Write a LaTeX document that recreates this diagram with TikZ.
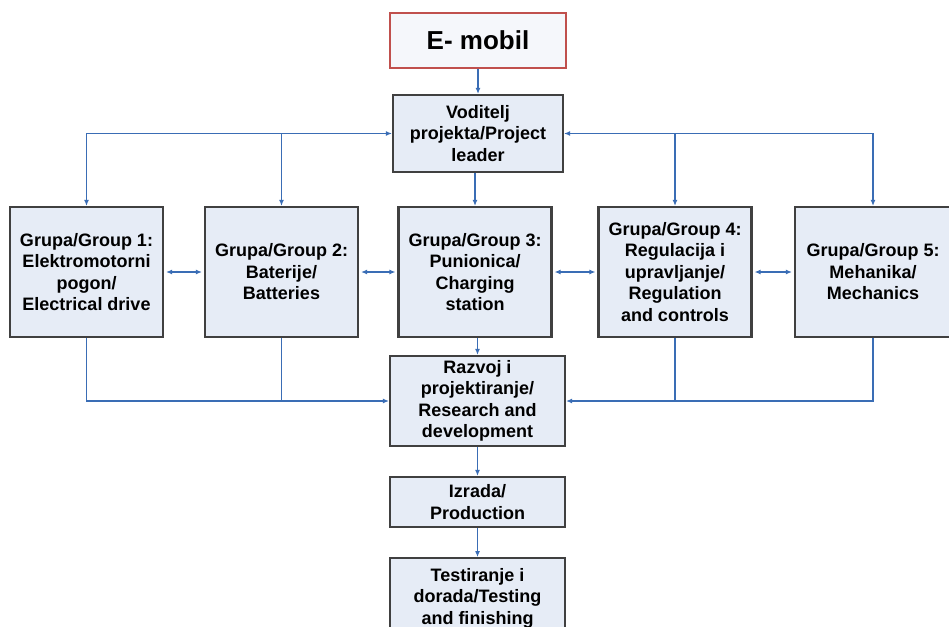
\documentclass[tikz,border=0pt]{standalone}
\usepackage{fontspec}
\setmainfont{Liberation Sans}
\usepackage{tikz}
\usetikzlibrary{arrows.meta}
\definecolor{boxfill}{HTML}{E6ECF6}
\definecolor{boxline}{HTML}{404040}
\definecolor{linkblue}{HTML}{3A6DB5}
\definecolor{topred}{HTML}{C0504D}
\tikzset{
    unit/.style={shape=rectangle, draw=boxline, line width=2.2pt, fill=boxfill, align=center, inner sep=0pt,
        font=\fontsize{18}{21.5}\selectfont\bfseries},
    link/.style={draw=linkblue, line width=1.1pt},
    >={Latex[length=6pt,width=5pt]}}

\begin{document}
\begin{tikzpicture}[x=1pt, y=-1pt]

        \useasboundingbox (0,0) rectangle (949,626);
        \clip (0,0) rectangle (949,626);

                    \node[unit, draw=topred, fill=white!60!boxfill, minimum width=176pt, minimum height=55pt, font=\fontsize{26}{30}\selectfont\bfseries] (emobil) at (478,40.5) {E- mobil};
                    \node[unit, minimum width=170pt, minimum height=77pt] (leader) at (478,133.5) {Voditelj\\projekta/Project\\leader};

                    \node[unit, minimum width=153pt, minimum height=130pt] (g1) at (86.5,272) {Grupa/Group 1:\\Elektromotorni\\pogon/\\Electrical drive};
                    \node[unit, minimum width=153pt, minimum height=130pt] (g2) at (281.5,272) {Grupa/Group 2:\\Baterije/\\Batteries};
                    \node[unit, minimum width=153pt, minimum height=130pt] (g3) at (475,272) {Grupa/Group 3:\\Punionica/\\Charging\\station};
                    \node[unit, minimum width=153pt, minimum height=130pt] (g4) at (675,272) {Grupa/Group 4:\\Regulacija i\\upravljanje/\\Regulation\\and controls};
                    \node[unit, minimum width=156pt, minimum height=130pt] (g5) at (873,272) {Grupa/Group 5:\\Mehanika/\\Mechanics};

                    \node[unit, minimum width=175pt, minimum height=90pt] (razvoj) at (477.5,401) {Razvoj i\\projektiranje/\\Research and\\development};
                    \node[unit, minimum width=175pt, minimum height=50pt] (izrada) at (477.5,502) {Izrada/\\Production};
                    \node[unit, minimum width=175pt, minimum height=80pt, anchor=north] (test) at (477.5,557) {Testiranje i\\dorada/Testing\\and finishing};

                    % top of the tree
                    \draw[link, ->] (emobil) -- (leader);
                    \draw[link, <->] (g1.north) |- (leader.west);
                    \draw[link, <->] (g5.north) |- (leader.east);
                    \draw[link, ->] (g2.north |- leader.west) -- (g2.north);
                    \draw[link, ->] (g4.north |- leader.east) -- (g4.north);
                    \draw[link, ->] (leader.south -| g3.north) -- (g3.north);

                    % between the groups
                    \draw[link, <->, shorten <=2pt, shorten >=2pt] (g1) -- (g2);
                    \draw[link, <->, shorten <=2pt, shorten >=2pt] (g2) -- (g3);
                    \draw[link, <->, shorten <=2pt, shorten >=2pt] (g3) -- (g4);
                    \draw[link, <->, shorten <=2pt, shorten >=2pt] (g4) -- (g5);

                    % down to development
                    \draw[link, ->] (g1.south) |- (razvoj.west);
                    \draw[link, ->] (g5.south) |- (razvoj.east);
                    \draw[link] (g2.south) -- (g2.south |- razvoj.west);
                    \draw[link] (g4.south) -- (g4.south |- razvoj.east);
                    \draw[link, ->] (g3.south -| razvoj.north) -- (razvoj.north);
                    \draw[link, ->] (razvoj) -- (izrada);
                    \draw[link, ->] (izrada) -- (test);

\end{tikzpicture}
\end{document}
